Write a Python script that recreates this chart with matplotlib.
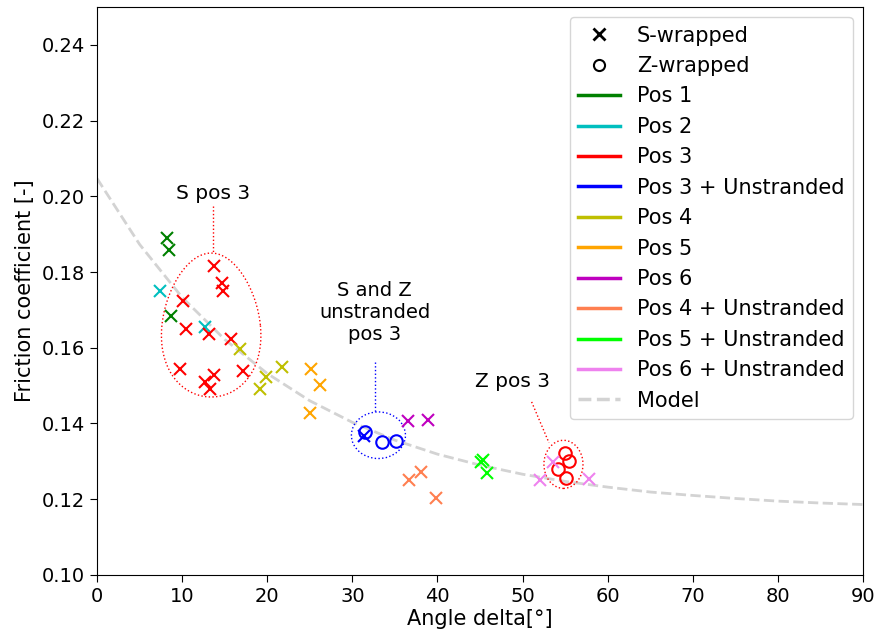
import numpy as np
import matplotlib
matplotlib.use("Agg")
import matplotlib.pyplot as plt
from matplotlib.lines import Line2D
from matplotlib.patches import Ellipse, PathPatch
from matplotlib.path import Path

plt.rcParams['font.family'] = ['DejaVu Sans']
plt.rcParams['font.size'] = 14

# ---- data ----
pos1_s_x = [8.2, 8.5, 8.7]
pos1_s_y = [0.1891, 0.1857, 0.1683]
pos2_s_x = [7.4, 12.7]
pos2_s_y = [0.1751, 0.1656]
pos3_s_x = [13.7, 14.7, 14.8, 10.1, 10.5, 13.2, 15.7, 9.8, 17.2, 13.7, 12.7, 13.3]
pos3_s_y = [0.1817, 0.1772, 0.1749, 0.1723, 0.1649, 0.1635, 0.1624, 0.1545, 0.1538, 0.1529, 0.1510, 0.1490]
pos3_z_x = [55.0, 55.45, 54.1, 55.1]
pos3_z_y = [0.1323, 0.1301, 0.1281, 0.1255]
pos3u_s_x = [31.4]
pos3u_s_y = [0.1366]
pos3u_z_x = [31.5, 33.5, 35.1]
pos3u_z_y = [0.1378, 0.1351, 0.1354]
pos4_s_x = [16.8, 21.7, 19.9, 19.1]
pos4_s_y = [0.1598, 0.1549, 0.1523, 0.1492]
pos5_s_x = [25.1, 26.2, 25.0]
pos5_s_y = [0.1543, 0.1501, 0.1429]
pos6_s_x = [36.5, 38.9]
pos6_s_y = [0.1407, 0.1409]
pos4u_s_x = [36.7, 38.1, 39.8]
pos4u_s_y = [0.1252, 0.1272, 0.1204]
pos5u_s_x = [45.06, 45.4, 45.8]
pos5u_s_y = [0.1299, 0.1303, 0.1268]
pos6u_s_x = [53.6, 52.1, 57.8]
pos6u_s_y = [0.1299, 0.1250, 0.1253]

model_x = [0, 5, 10, 15, 20, 25, 30, 35, 40, 45, 50, 55, 60, 65, 70, 75, 80, 85, 90]
model_y = [0.2047, 0.1873, 0.1733, 0.1622, 0.1532, 0.1460, 0.1403, 0.1356, 0.1319,
           0.1290, 0.1266, 0.1247, 0.1232, 0.1219, 0.1210, 0.1202, 0.1195, 0.1190, 0.1186]

legend_labels = ["Pos 1", "Pos 2", "Pos 3", "Pos 3 + Unstranded", "Pos 4", "Pos 5",
                 "Pos 6", "Pos 4 + Unstranded", "Pos 5 + Unstranded", "Pos 6 + Unstranded"]
legend_colors = ["green", "c", "red", "blue", "y", "orange", "m", "coral", "lime", "violet"]

fig = plt.figure(figsize=(8.78, 6.39), dpi=100)
ax = fig.add_axes([0.1105, 0.1002, 0.8725, 0.889])

ax.plot(model_x, model_y, '--', color='lightgray', lw=2, zorder=1)

xkw = dict(marker='x', ls='none', ms=9, mew=1.5, zorder=3)
okw = dict(marker='o', ls='none', ms=9, mew=1.5, mfc='none', zorder=3)
ax.plot(pos1_s_x, pos1_s_y, color='green', **xkw)
ax.plot(pos2_s_x, pos2_s_y, color='c', **xkw)
ax.plot(pos3_s_x, pos3_s_y, color='red', **xkw)
ax.plot(pos3_z_x, pos3_z_y, color='red', **okw)
ax.plot(pos3u_s_x, pos3u_s_y, color='blue', **xkw)
ax.plot(pos3u_z_x, pos3u_z_y, color='blue', **okw)
ax.plot(pos4_s_x, pos4_s_y, color='y', **xkw)
ax.plot(pos5_s_x, pos5_s_y, color='orange', **xkw)
ax.plot(pos6_s_x, pos6_s_y, color='m', **xkw)
ax.plot(pos4u_s_x, pos4u_s_y, color='coral', **xkw)
ax.plot(pos5u_s_x, pos5u_s_y, color='lime', **xkw)
ax.plot(pos6u_s_x, pos6u_s_y, color='violet', **xkw)

# egg-shaped outline for S pos 3
t = np.linspace(0, 2 * np.pi, 200)
cx, cy, w, h, k = 13.41, 0.1660, 11.56, 0.0380, 0.15
ex = cx + (w / 2) * np.cos(t) * (1 - k * np.sin(t))
ey = cy + (h / 2) * np.sin(t)
ax.add_patch(PathPatch(Path(np.column_stack([ex, ey])), fill=False, ec='red', ls=':', lw=1))
ax.plot([13.65, 13.65], [0.1975, 0.1660 + 0.0190], ':', color='red', lw=1)
ax.text(13.65, 0.2007, "S pos 3", ha='center', va='center', fontsize=14.5)

ax.add_patch(Ellipse((33.06, 0.1369), 6.35, 0.0123, fill=False, ec='blue', ls=':', lw=1))
ax.plot([32.6, 32.6], [0.1562, 0.1431], ':', color='blue', lw=1)
ax.text(32.6, 0.1693, "S and Z\nunstranded\npos 3", ha='center', va='center',
        fontsize=14, linespacing=1.2)

ax.add_patch(Ellipse((54.8, 0.1292), 4.59, 0.0127, fill=False, ec='red', ls=':', lw=1))
ax.plot([51.06, 53.1], [0.1457, 0.1349], ':', color='red', lw=1)
ax.text(48.8, 0.1511, "Z pos 3", ha='center', va='center', fontsize=14.5)

ax.set_xlim(0, 90)
ax.set_ylim(0.10, 0.25)
ax.set_xticks(np.arange(0, 91, 10))
ax.set_yticks(np.arange(0.10, 0.241, 0.02))
ax.tick_params(length=5)
ax.set_xlabel("Angle delta[°]", labelpad=2, fontsize=15)
ax.set_ylabel("Friction coefficient [-]", labelpad=5, fontsize=15)

handles = [Line2D([], [], marker='x', color='black', ls='none', ms=8, mew=2),
           Line2D([], [], marker='o', color='black', ls='none', ms=8, mew=1.5, mfc='none')]
labels = ["S-wrapped", "Z-wrapped"]
for lab, col in zip(legend_labels, legend_colors):
    handles.append(Line2D([], [], color=col, lw=2.5))
    labels.append(lab)
handles.append(Line2D([], [], color='lightgray', ls='--', lw=2.5))
labels.append("Model")
ax.legend(handles, labels, loc='upper right', fontsize=15, labelspacing=0.5)

fig.savefig("out.png", dpi=100)
